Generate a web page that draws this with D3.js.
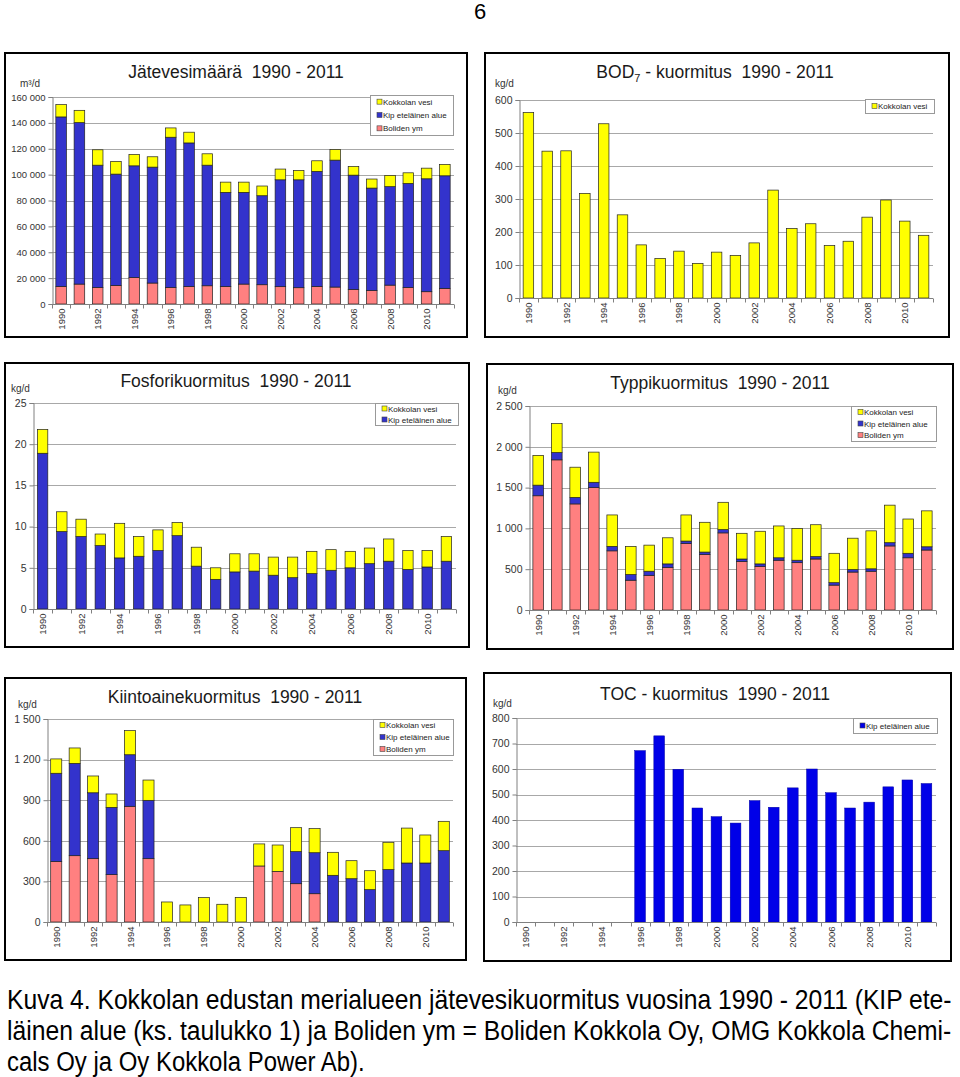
<!DOCTYPE html>
<html><head><meta charset="utf-8">
<script src="https://cdn.jsdelivr.net/npm/d3@7/dist/d3.min.js"></script>
<style>
html,body{margin:0;padding:0;background:#fff;}
svg{display:block;font-family:"Liberation Sans",Arial,sans-serif;}
text{white-space:pre;}
</style></head>
<body>
<svg id="c" width="960" height="1077"></svg>
<script>
// ---------------- DATA ----------------
const years = ["1990","1991","1992","1993","1994","1995","1996","1997","1998","1999","2000",
               "2001","2002","2003","2004","2005","2006","2007","2008","2009","2010","2011"];
const yearLabels = ["1990","1992","1994","1996","1998","2000","2002","2004","2006","2008","2010"];
const seriesNames = ["Kokkolan vesi","Kip eteläinen alue","Boliden ym"];

// Jätevesimäärä (m3/d)
const jvBoliden = [13600,15400,12800,14400,20500,16200,12800,13600,14100,13600,15400,14900,13400,12600,13600,13100,11300,10500,14600,12800,9500,12100];
const jvKip     = [131000,124800,94500,86000,86300,89600,116100,110900,93200,72700,70900,68800,82600,83400,88900,98100,88300,79100,76100,80400,87300,87000];
const jvKokkola = [9500,9500,11900,9800,8800,8000,7200,8300,8800,7900,7900,7500,8300,7200,8200,8200,6700,7000,8700,8200,8200,8800];
const jvTicks   = [0,20000,40000,60000,80000,100000,120000,140000,160000];

// BOD7 (kg/d)
const bodKokkola = [562,445,446,317,528,252,161,120,142,105,139,129,167,327,211,225,159,172,245,297,233,190];
const bodTicks   = [0,100,200,300,400,500,600];

// Fosfori (kg/d)
const pKip     = [18.9,9.4,8.8,7.7,6.2,6.4,7.1,8.9,5.2,3.6,4.5,4.6,4.1,3.8,4.3,4.7,5.0,5.5,5.8,4.8,5.1,5.8];
const pKokkola = [2.9,2.4,2.1,1.4,4.2,2.4,2.5,1.6,2.3,1.4,2.2,2.1,2.2,2.5,2.7,2.5,2.0,1.9,2.7,2.3,2.0,3.0];
const pTicks   = [0,5,10,15,20,25];

// Typpi (kg/d)
const nBoliden = [1400,1840,1300,1500,725,365,425,520,815,680,945,595,535,610,580,625,305,465,475,785,640,735];
const nKip     = [130,90,80,65,55,70,50,45,30,30,40,30,30,30,30,30,30,30,30,40,55,40];
const nKokkola = [365,355,370,370,385,345,320,320,320,365,335,315,400,390,390,390,360,385,465,460,420,440];
const nTicks   = [0,500,1000,1500,2000,2500];

// Kiintoaine (kg/d)
const ssBoliden = [447,490,468,350,855,468,0,0,0,0,0,414,374,283,209,0,0,0,0,0,0,0];
const ssKip     = [652,682,487,497,381,431,0,0,0,0,0,0,0,237,303,345,320,239,387,436,436,527];
const ssKokkola = [106,114,124,99,178,150,148,126,180,131,182,163,195,177,178,170,133,140,202,258,207,217];
const ssTicks   = [0,300,600,900,1200,1500];

// TOC (kg/d)
const tocKip   = [null,null,null,null,null,null,672,730,599,447,413,388,476,450,526,600,507,447,470,530,557,543];
const tocTicks = [0,100,200,300,400,500,600,700,800];

const pageNumber = "6";
const captionLines = [
  "Kuva 4. Kokkolan edustan merialueen jätevesikuormitus vuosina 1990 - 2011 (KIP ete-",
  "läinen alue (ks. taulukko 1) ja Boliden ym = Boliden Kokkola Oy, OMG Kokkola Chemi-",
  "cals Oy ja Oy Kokkola Power Ab)."
];

// ---------------- STYLE ----------------
const COL = {
  "Kokkolan vesi": "#ffff00",
  "Kip eteläinen alue": "#3333cc",
  "Boliden ym": "#ff8080"
};
const fmt = d3.formatLocale({decimal:",", thousands:" ", grouping:[3], currency:["",""]}).format(",d");

const svg = d3.select("#c");

function rows(cols){
  return years.map((y,i)=>{
    const r={year:y};
    for(const k in cols) r[k]=cols[k][i]==null?0:cols[k][i];
    return r;
  });
}

function drawPanel(cfg){
  const g = svg.append("g");
  g.append("rect").attr("x",cfg.frame[0]).attr("y",cfg.frame[1])
   .attr("width",cfg.frame[2]-cfg.frame[0]).attr("height",cfg.frame[3]-cfg.frame[1])
   .attr("fill","#fff").attr("stroke","#000").attr("stroke-width",2);

  const x = d3.scaleBand().domain(years).range([cfg.left,cfg.right])
    .paddingInner(cfg.pad).paddingOuter(cfg.pad/2);
  const y = d3.scaleLinear().domain([0,cfg.ticks[cfg.ticks.length-1]]).range([cfg.bottom,cfg.top]);

  g.append("g").selectAll("line").data(cfg.ticks.filter(t=>t>0)).join("line")
    .attr("x1",cfg.left).attr("x2",cfg.right)
    .attr("y1",d=>Math.round(y(d))+0.5).attr("y2",d=>Math.round(y(d))+0.5)
    .attr("stroke","#a8a8a8").attr("stroke-width",1);

  const ya = g.append("g").attr("transform",`translate(${cfg.left+0.5},0)`)
    .call(d3.axisLeft(y).tickValues(cfg.ticks).tickFormat(fmt).tickSize(4).tickPadding(3));
  ya.select(".domain").attr("stroke","#808080");
  ya.selectAll(".tick line").attr("stroke","#808080");
  ya.selectAll(".tick text").attr("fill","#333").style("font-size",cfg.yfs+"px")
    .style("font-family","'Liberation Sans',Arial,sans-serif");

  const keys = cfg.keys;
  const data = rows(cfg.cols);
  const stack = d3.stack().keys(keys)(data);
  const bars = g.append("g");
  stack.forEach(layer=>{
    bars.append("g").selectAll("rect")
      .data(layer.filter(d=>d[1]-d[0]>0))
      .join("rect")
      .attr("x",d=>x(d.data.year))
      .attr("width",x.bandwidth())
      .attr("y",d=>y(d[1]))
      .attr("height",d=>y(d[0])-y(d[1]))
      .attr("fill",cfg.colors[layer.key])
      .attr("stroke",cfg.stroke||"#222")
      .attr("stroke-width",cfg.strokeW||0.7);
  });

  const xa = g.append("g").attr("transform",`translate(0,${Math.round(cfg.bottom)+0.5})`);
  xa.append("line").attr("x1",cfg.left).attr("x2",cfg.right).attr("stroke","#808080");
  const bounds = years.map(yv=>x(yv)-x.step()*cfg.pad/2).concat([cfg.right]);
  xa.selectAll("line.tk").data(bounds).join("line").attr("class","tk")
    .attr("x1",d=>Math.round(d)+0.5).attr("x2",d=>Math.round(d)+0.5)
    .attr("y1",0).attr("y2",4).attr("stroke","#808080");
  xa.selectAll("text").data(yearLabels).join("text")
    .attr("transform",d=>`translate(${x(d)+x.bandwidth()/2+3.5},4) rotate(-90)`)
    .attr("text-anchor","end")
    .attr("fill","#333")
    .style("font-size",cfg.xfs+"px")
    .text(d=>d);

  const t = g.append("text").attr("x",cfg.titleX).attr("y",cfg.titleY)
    .attr("text-anchor","middle").attr("fill","#1a1a1a").style("font-size","17.5px");
  if(cfg.titleSub){
    t.append("tspan").text(cfg.title[0]);
    t.append("tspan").attr("dy",4).style("font-size","11px").text(cfg.titleSub);
    t.append("tspan").attr("dy",-4).text(cfg.title[1]);
  } else t.text(cfg.title);

  g.append("text").attr("x",cfg.unitX).attr("y",cfg.unitY).attr("fill","#333")
    .style("font-size","10px").text(cfg.unit);

  const L = cfg.legend;
  g.append("rect").attr("x",L.x+0.5).attr("y",L.y+0.5).attr("width",L.w).attr("height",L.h)
    .attr("fill","#fff").attr("stroke","#999").attr("stroke-width",1);
  const n = L.items.length;
  const rowH = L.h/n;
  L.items.forEach((it,i)=>{
    const cy = L.y + rowH*(i+0.5);
    g.append("rect").attr("x",L.x+7).attr("y",cy-2.5).attr("width",5).attr("height",5)
      .attr("fill",cfg.colors[it]).attr("stroke",cfg.legendStroke||"#444").attr("stroke-width",0.6);
    g.append("text").attr("x",L.x+13).attr("y",cy+3).attr("fill","#222")
      .style("font-size","8px").text(it);
  });
}

const stdColors = COL;

drawPanel({
  frame:[5,53,467,337], left:52, right:454, top:97, bottom:304, pad:0.42,
  ticks:jvTicks, yfs:9.5, xfs:9.5,
  keys:["Boliden ym","Kip eteläinen alue","Kokkolan vesi"],
  cols:{"Boliden ym":jvBoliden,"Kip eteläinen alue":jvKip,"Kokkolan vesi":jvKokkola},
  colors:stdColors,
  title:"Jätevesimäärä  1990 - 2011", titleX:236, titleY:78,
  unit:"m³/d", unitX:20, unitY:87,
  legend:{x:370,y:95,w:83,h:40,items:["Kokkolan vesi","Kip eteläinen alue","Boliden ym"]}
});

drawPanel({
  frame:[485,53,949,337], left:519, right:933, top:100, bottom:298, pad:0.44,
  ticks:bodTicks, yfs:10.5, xfs:9.5,
  keys:["Kokkolan vesi"],
  cols:{"Kokkolan vesi":bodKokkola},
  colors:stdColors,
  title:["BOD"," - kuormitus  1990 - 2011"], titleSub:"7", titleX:715, titleY:78,
  unit:"kg/d", unitX:495, unitY:87,
  legend:{x:865,y:99,w:69,h:14,items:["Kokkolan vesi"]}
});

drawPanel({
  frame:[5,363,469,647], left:33, right:456, top:403, bottom:609, pad:0.46,
  ticks:pTicks, yfs:10.5, xfs:9.5,
  keys:["Kip eteläinen alue","Kokkolan vesi"],
  cols:{"Kip eteläinen alue":pKip,"Kokkolan vesi":pKokkola},
  colors:stdColors,
  title:"Fosforikuormitus  1990 - 2011", titleX:236, titleY:387,
  unit:"kg/d", unitX:11, unitY:392,
  legend:{x:375,y:403,w:83,h:22,items:["Kokkolan vesi","Kip eteläinen alue"]}
});

drawPanel({
  frame:[487,364,953,649], left:529, right:936, top:406, bottom:610, pad:0.42,
  ticks:nTicks, yfs:10.5, xfs:9.5,
  keys:["Boliden ym","Kip eteläinen alue","Kokkolan vesi"],
  cols:{"Boliden ym":nBoliden,"Kip eteläinen alue":nKip,"Kokkolan vesi":nKokkola},
  colors:stdColors,
  title:"Typpikuormitus  1990 - 2011", titleX:720, titleY:389,
  unit:"kg/d", unitX:498, unitY:394,
  legend:{x:851,y:406,w:85,h:35,items:["Kokkolan vesi","Kip eteläinen alue","Boliden ym"]}
});

drawPanel({
  frame:[5,678,466,960], left:47, right:453, top:719, bottom:922, pad:0.40,
  ticks:ssTicks, yfs:10.5, xfs:9.5,
  keys:["Boliden ym","Kip eteläinen alue","Kokkolan vesi"],
  cols:{"Boliden ym":ssBoliden,"Kip eteläinen alue":ssKip,"Kokkolan vesi":ssKokkola},
  colors:stdColors,
  title:"Kiintoainekuormitus  1990 - 2011", titleX:235, titleY:703,
  unit:"kg/d", unitX:18, unitY:708,
  legend:{x:373,y:719,w:80,h:36,items:["Kokkolan vesi","Kip eteläinen alue","Boliden ym"]}
});

drawPanel({
  frame:[484,673,951,961], left:516, right:936, top:718, bottom:922, pad:0.44,
  ticks:tocTicks, yfs:10.5, xfs:9.5,
  keys:["Kip eteläinen alue"],
  cols:{"Kip eteläinen alue":tocKip},
  colors:{"Kip eteläinen alue":"#0000e8"}, stroke:"#0000a0", strokeW:0.5,
  title:"TOC - kuormitus  1990 - 2011", titleX:715, titleY:700,
  unit:"kg/d", unitX:493, unitY:707,
  legend:{x:853,y:718,w:84,h:15,items:["Kip eteläinen alue"]}
});

// page number
svg.append("text").attr("x",480).attr("y",19).attr("text-anchor","middle")
  .style("font-size","22px").attr("fill","#000").text(pageNumber);

// caption (condensed via horizontal scaling to mimic a narrow face)
const capW = [945, 945, 358];
const capY = [1009, 1040, 1071];
captionLines.forEach((l,i)=>{
  const t = svg.append("text").attr("x",0).attr("y",0)
    .style("font-size","27px").attr("fill","#000").text(l);
  const w = t.node().getComputedTextLength();
  const s = capW[i]/w;
  t.attr("transform",`translate(7,${capY[i]}) scale(${s},1)`);
});
</script>
</body></html>
